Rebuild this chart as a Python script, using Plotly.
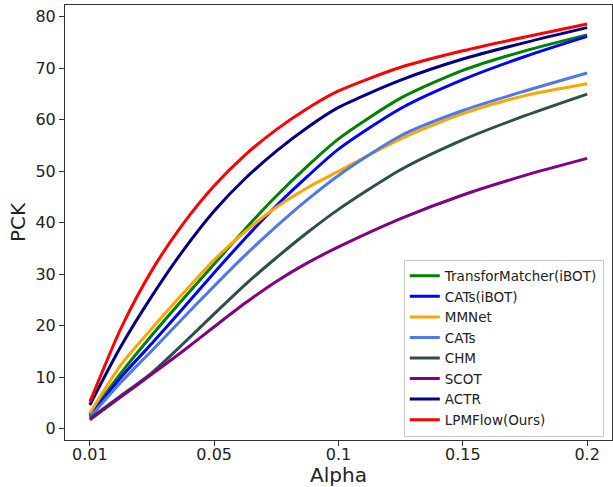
import plotly.graph_objects as go

# x positions (evenly spaced tick scale) and tick labels
x_pos = [0, 0.25, 0.5, 0.75, 1, 1.25, 1.5, 1.75, 2, 2.5, 3, 3.5, 4]
tick_vals = [0, 1, 2, 3, 4]
tick_text = ["0.01", "0.05", "0.1", "0.15", "0.2"]
y_ticks = [0, 10, 20, 30, 40, 50, 60, 70, 80]

series_names = ["TransforMatcher(iBOT)", "CATs(iBOT)", "MMNet", "CATs", "CHM", "SCOT", "ACTR", "LPMFlow(Ours)"]
transformatcher = [2.7, 10.8, 18.2, 25.2, 32.0, 38.8, 45.2, 51.0, 56.3, 64.2, 69.6, 73.4, 76.5]
cats_ibot = [2.4, 10.0, 16.6, 23.4, 30.3, 37.0, 43.3, 49.0, 54.3, 62.2, 67.8, 72.3, 76.2]
mmnet = [3.0, 12.4, 19.5, 26.3, 32.8, 38.3, 43.0, 46.8, 50.0, 56.3, 61.2, 64.7, 67.0]
cats = [2.2, 9.0, 15.2, 21.5, 27.7, 33.7, 39.3, 44.5, 49.2, 56.9, 61.8, 65.6, 69.1]
chm = [2.0, 6.4, 10.9, 16.5, 22.3, 28.0, 33.2, 38.1, 42.6, 50.3, 56.1, 60.8, 65.0]
scot = [1.7, 6.2, 10.6, 15.1, 19.8, 24.4, 28.6, 32.2, 35.3, 40.8, 45.4, 49.2, 52.5]
actr = [4.6, 16.0, 25.8, 34.6, 42.3, 48.6, 53.9, 58.5, 62.4, 67.7, 71.8, 75.0, 77.9]
lpmflow = [5.2, 19.5, 30.8, 39.8, 47.2, 53.2, 58.1, 62.2, 65.6, 70.2, 73.4, 76.1, 78.6]

series_values = [transformatcher, cats_ibot, mmnet, cats, chm, scot, actr, lpmflow]
colors = ["#008000", "#0000FF", "#FFA500", "#4F79E6", "#2F4F4F", "#800080", "#000080", "#FF0000"]

fig = go.Figure()
for name, vals, col in zip(series_names, series_values, colors):
    fig.add_trace(go.Scatter(x=x_pos, y=vals, mode="lines", name=name,
                             line=dict(color=col, width=3, shape="spline", smoothing=0.7)))

axis_common = dict(showline=True, linecolor="#333333", linewidth=1, mirror=True,
                   ticks="outside", ticklen=5, tickcolor="#333333", showgrid=False,
                   zeroline=False, automargin=False, tickfont=dict(size=16, color="#222222"))

fig.update_layout(
    width=613, height=487,
    margin=dict(l=65, r=1, t=5, b=47, autoexpand=False),
    paper_bgcolor="white", plot_bgcolor="white",
    font=dict(family="DejaVu Sans", color="#222222"),
    xaxis=dict(range=[-0.2, 4.2], tickvals=tick_vals, ticktext=tick_text,
               ticklabelstandoff=-5,
               title=dict(text="Alpha", font=dict(size=20), standoff=2), **axis_common),
    yaxis=dict(range=[-2.2, 82.3], tickvals=y_ticks,
               title=dict(text="PCK", font=dict(size=20), standoff=4), **axis_common),
    legend=dict(x=0.985, y=0.008, xanchor="right", yanchor="bottom",
                bgcolor="rgba(255,255,255,0.8)", bordercolor="#CCCCCC", borderwidth=1,
                font=dict(size=13.5), tracegroupgap=0, itemwidth=30),
    showlegend=True,
)

fig.write_html("out.html", config={"displayModeBar": False},
               post_script="document.body.style.margin='0px';document.body.style.overflow='hidden';")
